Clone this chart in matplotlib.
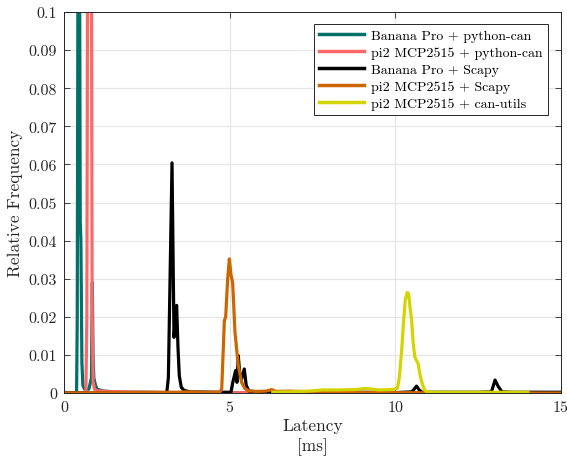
import matplotlib
matplotlib.use("Agg")
import matplotlib.pyplot as plt

plt.rcParams['font.family'] = 'serif'
plt.rcParams['font.serif'] = ['cmr10']
plt.rcParams['mathtext.fontset'] = 'cm'
plt.rcParams['axes.formatter.use_mathtext'] = True
plt.rcParams['axes.unicode_minus'] = False

# ---- data (latency in ms, relative frequency) ----
bp_pycan_x = [0.0, 0.38, 0.40, 0.43, 0.46, 0.49, 0.51, 0.54, 0.57, 0.62, 0.75, 0.83, 0.855, 0.875, 0.90, 0.95, 1.0, 1.2, 1.5, 2.0, 2.5, 3.0, 5.0, 8.0, 12.0, 15.0]
bp_pycan_y = [0.0, 0.0, 0.02, 0.15, 0.15, 0.045, 0.040, 0.008, 0.002, 0.001, 0.001, 0.004, 0.029, 0.010, 0.004, 0.002, 0.001, 0.0005, 0.0003, 0.0002, 0.0002, 0.0001, 0.0001, 0.0001, 0.0001, 0.0001]

pi_pycan_x = [0.0, 0.66, 0.69, 0.72, 0.82, 0.85, 0.88, 0.92, 1.0, 1.3, 1.8, 2.5, 3.5, 15.0]
pi_pycan_y = [0.0, 0.0, 0.02, 0.15, 0.15, 0.02, 0.003, 0.001, 0.0006, 0.0004, 0.0003, 0.0002, 0.0001, 0.0]

bp_scapy_x = [0.0, 3.10, 3.15, 3.26, 3.32, 3.37, 3.40, 3.44, 3.48, 3.54, 3.62, 3.8, 4.5, 5.04, 5.10, 5.18, 5.22, 5.26, 5.31, 5.36, 5.44, 5.50, 5.58, 6.0, 7.0, 8.0, 9.0, 10.0, 10.50, 10.64, 10.72, 10.80, 11.5, 12.5, 12.90, 13.01, 13.10, 13.22, 13.5, 14.0, 15.0]
bp_scapy_y = [0.0, 0.0, 0.004, 0.0604, 0.0146, 0.021, 0.023, 0.012, 0.0045, 0.0015, 0.0007, 0.0003, 0.0002, 0.0002, 0.003, 0.0059, 0.0028, 0.0098, 0.0045, 0.0037, 0.0063, 0.002, 0.0005, 0.0002, 0.0002, 0.0001, 0.0002, 0.0001, 0.0003, 0.0018, 0.0008, 0.0002, 0.0002, 0.0002, 0.0003, 0.0034, 0.0018, 0.0003, 0.0002, 0.0002, 0.0002]

pi_scapy_x = [0.0, 3.4, 3.7, 4.2, 4.70, 4.76, 4.84, 4.88, 4.94, 4.99, 5.04, 5.09, 5.16, 5.26, 5.36, 5.46, 5.56, 5.8, 6.1, 6.27, 6.4, 6.8, 7.2, 7.6, 8.5, 10.0, 12.0, 15.0]
pi_scapy_y = [0.0, 0.0002, 0.0003, 0.0002, 0.0002, 0.001, 0.019, 0.020, 0.030, 0.0352, 0.031, 0.029, 0.016, 0.0072, 0.0028, 0.0012, 0.0006, 0.0004, 0.0005, 0.0009, 0.0004, 0.0005, 0.0004, 0.0002, 0.0001, 0.0001, 0.0, 0.0]

pi_canutils_x = [6.3, 6.8, 7.4, 7.8, 8.3, 8.8, 9.1, 9.5, 9.9, 10.06, 10.12, 10.19, 10.24, 10.30, 10.36, 10.40, 10.45, 10.49, 10.54, 10.59, 10.64, 10.69, 10.74, 10.80, 10.88, 10.95, 11.3, 12.0, 13.0, 14.0]
pi_canutils_y = [0.0002, 0.0003, 0.0005, 0.0008, 0.0008, 0.0009, 0.0012, 0.0008, 0.0009, 0.0012, 0.004, 0.011, 0.0177, 0.0245, 0.0264, 0.026, 0.022, 0.0194, 0.013, 0.0094, 0.0085, 0.0076, 0.005, 0.0028, 0.0008, 0.0003, 0.0002, 0.0002, 0.0002, 0.0002]

series_labels = ['Banana Pro + python-can', 'pi2 MCP2515 + python-can', 'Banana Pro + Scapy',
                 'pi2 MCP2515 + Scapy', 'pi2 MCP2515 + can-utils']
series_colors = ['#00706a', '#ff6666', '#000000', '#cc6600', '#d4d400']

x_ticks = [0, 5, 10, 15]
x_ticklabels = ['0', '5', '10', '15']
y_ticks = [0, 0.01, 0.02, 0.03, 0.04, 0.05, 0.06, 0.07, 0.08, 0.09, 0.1]
y_ticklabels = ['0', '0.01', '0.02', '0.03', '0.04', '0.05', '0.06', '0.07', '0.08', '0.09', '0.1']

# ---- figure ----
fig = plt.figure(figsize=(5.67, 4.60), dpi=100)
ax = fig.add_axes([64/567, 66/460, 497/567, 381/460])

xs = [bp_pycan_x, pi_pycan_x, bp_scapy_x, pi_scapy_x, pi_canutils_x]
ys = [bp_pycan_y, pi_pycan_y, bp_scapy_y, pi_scapy_y, pi_canutils_y]
for x, y, lab, col in zip(xs, ys, series_labels, series_colors):
    ax.plot(x, y, color=col, lw=2.3, label=lab, solid_joinstyle='round')

ax.set_xlim(0, 15)
ax.set_ylim(0, 0.1)
ax.set_xticks(x_ticks)
ax.set_xticklabels(x_ticklabels)
ax.set_yticks(y_ticks)
ax.set_yticklabels(y_ticklabels)
ax.tick_params(direction='in', top=True, right=True, length=4, width=0.6,
               labelsize=11.5, colors='#262626', labelcolor='#262626', pad=5)
for s in ax.spines.values():
    s.set_color('#262626')
    s.set_linewidth(0.7)
ax.grid(True, color='#e6e6e6', lw=0.9)
ax.set_axisbelow(True)

ax.set_xlabel('Latency\n[ms]', fontsize=12.5, color='#262626', labelpad=3, linespacing=1.3)
ax.set_ylabel('Relative Frequency', fontsize=12.5, color='#262626', labelpad=4)

leg = ax.legend(loc='upper right', bbox_to_anchor=((548-64)/497, (394-25)/381),
                borderaxespad=0, fontsize=10, frameon=True, fancybox=False,
                edgecolor='#262626', framealpha=1, handlelength=3.2,
                labelspacing=0.3, borderpad=0.4, handletextpad=0.5)
leg.get_frame().set_linewidth(0.7)
for h in leg.get_lines():
    h.set_linewidth(2.5)

fig.savefig('out.png', dpi=100)
